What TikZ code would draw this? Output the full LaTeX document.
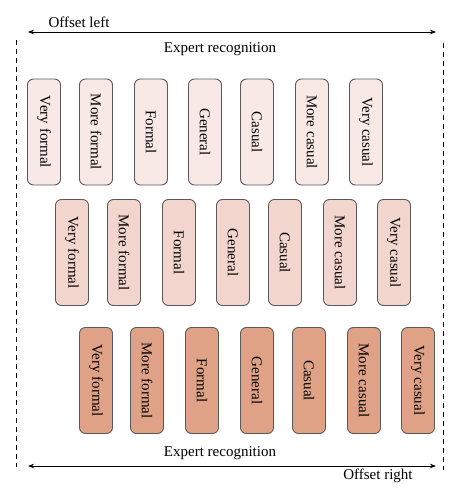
\documentclass[tikz,border=0pt]{standalone}
\usepackage{fontspec}
\setmainfont{Liberation Serif}
\usetikzlibrary{arrows.meta}
\definecolor{paleblush}{HTML}{F9E9E6}
\definecolor{softblush}{HTML}{F2D6CE}
\definecolor{deepblush}{HTML}{E0A286}
\definecolor{boxline}{HTML}{5A5A5A}
\tikzset{
  register/.style={
	draw=boxline, % outline of every box
	line width=0.9pt,
	rounded corners=6pt, % rounds off the corners
	rotate=-90, % the text runs from top to bottom
	minimum width=106pt, minimum height=33pt, % size of every box
	inner sep=0pt,
	font=\fontsize{15}{18}\selectfont,
  },
  span/.style={
	<->, >={Stealth[length=6pt, width=4.5pt]}, % heads on both ends
	line width=0.8pt,
  },
  border/.style={
	dash pattern=on 5pt off 4pt, line width=0.7pt, % the dashed side lines
  },
  caption/.style={font=\fontsize{15}{18}\selectfont, inner sep=0pt},
}
\begin{document}
\begin{tikzpicture}[x=1pt, y=-1pt]
	  \useasboundingbox (0,0) rectangle (460,500);
	  \fill[white] (0,0) rectangle (460,500);

	  \coordinate (topl) at (28,32);
	  \coordinate (topr) at (436,32);
	  \coordinate (botl) at (28,466);
	  \coordinate (botr) at (436,466);
	  \coordinate (sidelt) at (16,40);
	  \coordinate (sidelb) at (16,467);
	  \coordinate (sidert) at (443,43);
	  \coordinate (siderb) at (443,470);

	  \node[caption] (offleft) at (79,22.5) {Offset left};
	  \node[caption] (experttop) at (220,49) {Expert recognition};
	  \node[caption] (expertbot) at (220,453) {Expert recognition};
	  \node[caption] (offright) at (378,476) {Offset right};

	  % first row
	  \node[register, fill=paleblush] (aveform) at (44,132) {Very formal};
	  \node[register, fill=paleblush] (amoform) at (96,132) {More formal};
	  \node[register, fill=paleblush] (aform) at (151,132) {Formal};
	  \node[register, fill=paleblush] (agen) at (205,132) {General};
	  \node[register, fill=paleblush] (acas) at (257,132) {Casual};
	  \node[register, fill=paleblush] (amocas) at (312,132) {More casual};
	  \node[register, fill=paleblush] (avecas) at (366,132) {Very casual};

	  % second row
	  \node[register, fill=softblush] (bveform) at (72,252.5) {Very formal};
	  \node[register, fill=softblush] (bmoform) at (124,252.5) {More formal};
	  \node[register, fill=softblush] (bform) at (179,252.5) {Formal};
	  \node[register, fill=softblush] (bgen) at (233,252.5) {General};
	  \node[register, fill=softblush] (bcas) at (285,252.5) {Casual};
	  \node[register, fill=softblush] (bmocas) at (340,252.5) {More casual};
	  \node[register, fill=softblush] (bvecas) at (394,252.5) {Very casual};

	  % third row
	  \node[register, fill=deepblush] (cveform) at (96,380.5) {Very formal};
	  \node[register, fill=deepblush] (cmoform) at (147,380.5) {More formal};
	  \node[register, fill=deepblush] (cform) at (202,380.5) {Formal};
	  \node[register, fill=deepblush] (cgen) at (257,380.5) {General};
	  \node[register, fill=deepblush] (ccas) at (309,380.5) {Casual};
	  \node[register, fill=deepblush] (cmocas) at (364,380.5) {More casual};
	  \node[register, fill=deepblush] (cvecas) at (418,380.5) {Very casual};

	  \draw[span] (topl) -- (topr);
	  \draw[span] (botl) -- (botr);
	  \draw[border] (sidelt) -- (sidelb);
	  \draw[border] (sidert) -- (siderb);
\end{tikzpicture}
\end{document}
